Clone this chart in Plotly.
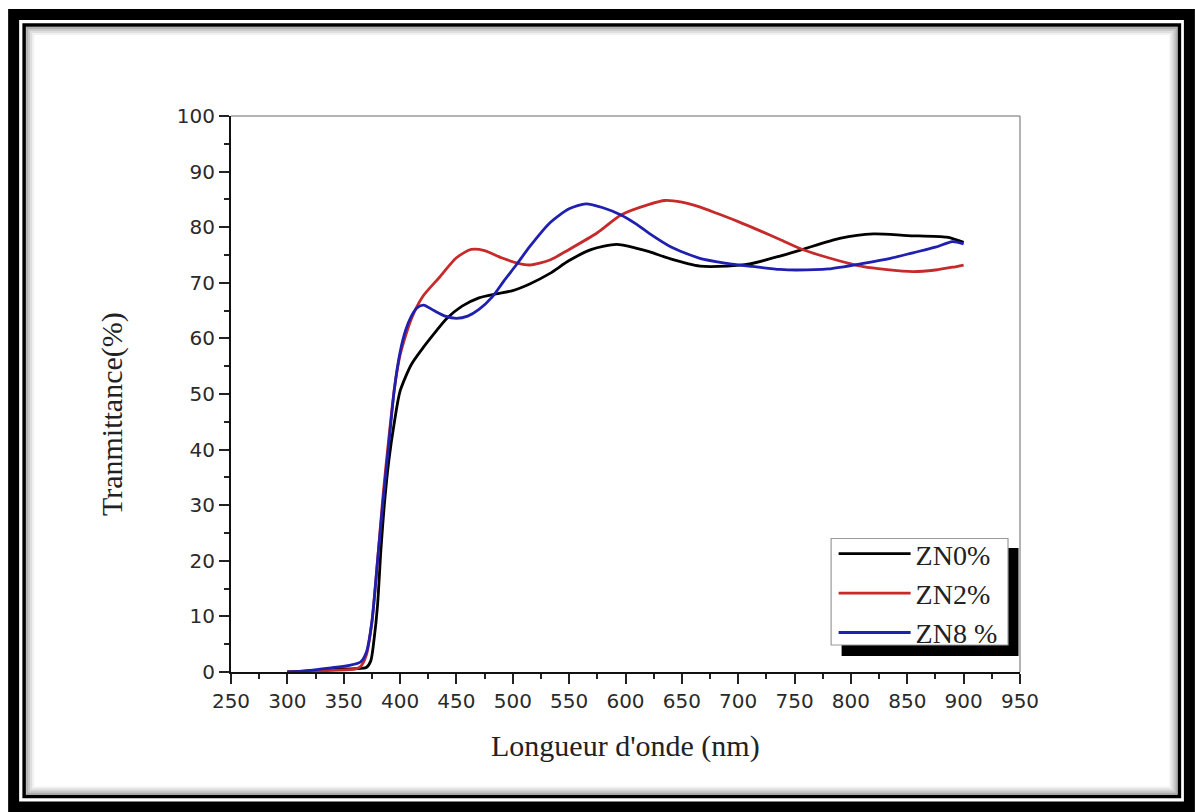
import plotly.graph_objects as go

# ---------------- data ----------------
wl_zn0 = [300, 320, 340, 360, 370, 374, 377, 380, 383, 386, 390, 395, 400, 410, 420, 430, 441, 455,
          470, 485, 500, 515, 533, 550, 570, 592, 610, 621, 640, 666, 690, 710, 737, 757, 790, 820,
          850, 885, 900]
t_zn0 = [0.0, 0.2, 0.5, 0.6, 0.8, 2.0, 6.0, 12.0, 22.0, 30.0, 38.0, 45.0, 50.5, 55.3, 58.2, 60.8, 63.5, 65.8,
         67.3, 68.0, 68.6, 69.8, 71.7, 74.0, 76.0, 76.9, 76.2, 75.6, 74.3, 73.0, 73.0, 73.4, 74.8, 76.0, 78.0, 78.8,
         78.5, 78.2, 77.3]

wl_zn2 = [300, 320, 340, 360, 365, 370, 375, 380, 385, 390, 395, 400, 410, 420, 435, 450, 463, 475,
          490, 505, 515, 533, 550, 575, 596, 621, 635, 650, 665, 681, 700, 720, 737, 757, 780, 800,
          811, 830, 855, 875, 890, 900]
t_zn2 = [0.0, 0.1, 0.3, 0.5, 1.0, 3.0, 9.0, 20.0, 32.0, 42.0, 51.0, 57.0, 63.5, 67.5, 71.0, 74.5, 76.0, 75.8,
         74.5, 73.5, 73.2, 74.1, 76.0, 79.0, 82.2, 84.1, 84.8, 84.5, 83.7, 82.5, 81.0, 79.3, 77.8, 76.0, 74.5, 73.4,
         72.9, 72.4, 72.0, 72.3, 72.8, 73.2]

wl_zn8 = [300, 320, 340, 355, 365, 370, 375, 380, 385, 390, 395, 400, 405, 410, 415, 421, 430, 440,
          450, 460, 470, 482, 492, 503, 515, 533, 550, 565, 580, 596, 610, 621, 640, 666, 690, 710,
          737, 752, 780, 811, 835, 855, 875, 890, 900]
t_zn8 = [0.0, 0.3, 0.8, 1.2, 1.8, 3.5, 9.0, 20.0, 31.0, 41.0, 51.0, 57.5, 61.5, 64.0, 65.5, 66.0, 65.0, 64.0,
         63.6, 64.0, 65.2, 67.5, 70.3, 73.2, 76.5, 80.8, 83.3, 84.2, 83.5, 82.2, 80.5, 78.9, 76.5, 74.4, 73.5, 73.0,
         72.4, 72.3, 72.5, 73.5, 74.4, 75.4, 76.4, 77.4, 77.0]

series_names = ["ZN0%", "ZN2%", "ZN8 %"]
series_colors = ["#000000", "#c62a2a", "#1f1fb0"]

x_ticks = list(range(250, 951, 50))
y_ticks = list(range(0, 101, 10))

# ---------------- geometry ----------------
W, H = 1195, 812
ML, MR, MT, MB = 231, 174.5, 116, 140
PW = W - ML - MR
PH = H - MT - MB


def px(xp):
    return (xp - ML) / PW


def py(yp):
    return (H - MB - yp) / PH


fig = go.Figure()
for wl, t, name, col in zip([wl_zn0, wl_zn2, wl_zn8], [t_zn0, t_zn2, t_zn8], series_names, series_colors):
    fig.add_trace(go.Scatter(x=wl, y=t, mode="lines", name=name,
                             line=dict(color=col, width=2.8, shape="spline", smoothing=0.7)))

tick_font = dict(family="DejaVu Sans", size=20, color="#2a2a2a")
fig.update_xaxes(range=[250, 950], tickvals=x_ticks, ticks="outside", ticklen=10, tickwidth=2,
                 tickcolor="#222", showline=True, linecolor="#111", linewidth=2, showgrid=False,
                 zeroline=False, tickfont=tick_font,
                 minor=dict(dtick=25, ticks="outside", ticklen=5, tickwidth=2, tickcolor="#222"))
fig.update_yaxes(range=[0, 100], tickvals=y_ticks, ticks="outside", ticklen=10, tickwidth=2,
                 tickcolor="#222", showline=True, linecolor="#111", linewidth=2, showgrid=False,
                 zeroline=False, tickfont=tick_font,
                 minor=dict(dtick=5, ticks="outside", ticklen=5, tickwidth=2, tickcolor="#222"))

shapes = []
# top/right plot border (thin gray)
shapes.append(dict(type="line", xref="paper", yref="paper", x0=0, x1=1, y0=1, y1=1,
                   line=dict(color="#9a9a9a", width=1.5)))
shapes.append(dict(type="line", xref="paper", yref="paper", x0=1, x1=1, y0=0, y1=1,
                   line=dict(color="#9a9a9a", width=1.5)))
# legend shadow + box
shapes.append(dict(type="rect", xref="paper", yref="paper", x0=px(842), x1=px(1019), y0=py(656), y1=py(548),
                   fillcolor="#000", line=dict(width=0), layer="above"))
shapes.append(dict(type="rect", xref="paper", yref="paper", x0=px(831.5), x1=px(1008.5), y0=py(645), y1=py(538.5),
                   fillcolor="#fff", line=dict(color="#9a9a9a", width=1.2), layer="above"))
# outer thick frame
shapes.append(dict(type="rect", xref="paper", yref="paper", x0=px(13.5), x1=px(1190), y0=py(807), y1=py(14.5),
                   line=dict(color="#000", width=11)))
# inner thin frame
shapes.append(dict(type="rect", xref="paper", yref="paper", x0=px(24), x1=px(1180), y0=py(796.5), y1=py(25),
                   line=dict(color="#000", width=3.5)))
# soft inner shadow
for k, op in enumerate([0.45, 0.3, 0.18, 0.08]):
    shapes.append(dict(type="rect", xref="paper", yref="paper",
                       x0=px(27 + 2 * k), x1=px(1177 - 2 * k),
                       y0=py(793.5 - 2 * k), y1=py(28 + 2 * k),
                       line=dict(color=f"rgba(80,80,80,{op})", width=2)))

title_font = dict(family="Liberation Serif", size=30, color="#222")
annotations = [
    dict(text="Longueur d'onde (nm)", xref="paper", yref="paper", x=px(625.5), y=py(746),
         xanchor="center", yanchor="middle", showarrow=False, font=title_font),
    dict(text="Tranmittance(%)", xref="paper", yref="paper", x=px(112), y=py(414),
         xanchor="center", yanchor="middle", showarrow=False, textangle=-90, font=title_font),
]

fig.update_layout(
    width=W, height=H,
    margin=dict(l=ML, r=MR, t=MT, b=MB, autoexpand=False),
    paper_bgcolor="white", plot_bgcolor="white",
    shapes=shapes, annotations=annotations,
    showlegend=True,
    legend=dict(x=px(834), y=py(529), xanchor="left", yanchor="top",
                bgcolor="rgba(0,0,0,0)", borderwidth=0, itemwidth=72,
                font=dict(family="Liberation Serif", size=28, color="#222"),
                tracegroupgap=0),
)

fig.write_html("out.html", config={"displayModeBar": False},
               post_script="document.body.style.margin='0px';")
